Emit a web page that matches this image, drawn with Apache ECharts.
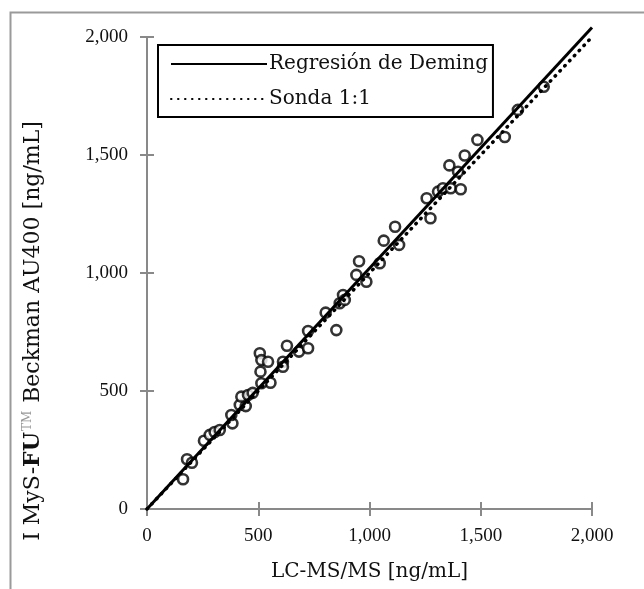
<!DOCTYPE html>
<html>
<head>
<meta charset="utf-8">
<script src="https://cdn.jsdelivr.net/npm/echarts@6/dist/echarts.min.js"></script>
<style>html,body{margin:0;padding:0;background:#fff;}#c{width:644px;height:589px;}</style>
</head>
<body>
<div id="c"></div>
<script>
// LC-MS/MS values (x) and IMySFU Beckman AU400 values (y), ng/mL
var lcms = [162,180,202,256,282,304,327,384,379,417,444,424,454,475,507,514,510,544,555,514,611,611,629,683,724,724,803,851,866,881,889,941,953,986,1046,1064,1133,1115,1274,1257,1308,1330,1365,1410,1359,1398,1428,1485,1608,1667,1783];
var imysfu = [126,211,196,289,314,326,335,363,398,441,436,476,483,492,660,631,582,624,535,533,624,603,692,667,681,754,832,758,872,907,886,992,1050,963,1041,1137,1119,1196,1232,1317,1345,1359,1359,1355,1456,1429,1498,1564,1576,1691,1789];
var demingX = [0, 2000];
var demingY = [0, 2040];
var identityX = [0, 2000];
var identityY = [0, 2000];
var xTicks = [0, 500, 1000, 1500, 2000];
var yTicks = [0, 500, 1000, 1500, 2000];
var seriesNames = ['Regresión de Deming', 'Sonda 1:1'];
var xTitle = 'LC-MS/MS [ng/mL]';

var axisGray = '#898989';
var serifT = 'Liberation Serif';
var serifW = 'DejaVu Serif';
function fmt(v){ return v.toLocaleString('en-US'); }

var pts = lcms.map(function(x,i){ return [x, imysfu[i]]; });
var dem = demingX.map(function(x,i){ return [x, demingY[i]]; });
var idl = identityX.map(function(x,i){ return [x, identityY[i]]; });

function baseAxis(extra){
  var a = {
    type: 'value', min: xTicks[0], max: xTicks[xTicks.length-1], interval: 500,
    axisLine: {show: true, lineStyle: {color: axisGray, width: 2}},
    axisTick: {show: true, length: 7, lineStyle: {color: axisGray, width: 2}},
    splitLine: {show: false},
    axisLabel: {show: true}
  };
  for (var k in extra) a[k] = extra[k];
  return a;
}

var chart = echarts.init(document.getElementById('c'), null, {renderer: 'canvas'});
chart.setOption({
  animation: false,
  backgroundColor: '#fff',
  grid: {left: 147, top: 37, right: 52, bottom: 80, containLabel: false},
  xAxis: [
    baseAxis({
      position: 'bottom',
      axisLabel: {show: true, formatter: fmt, color: '#111', fontFamily: serifT, fontSize: 19, margin: 18},
      name: xTitle, nameLocation: 'middle', nameGap: 53,
      nameTextStyle: {fontFamily: serifW, fontSize: 20, color: '#111'}
    }),
    baseAxis({position: 'bottom', axisTick: {show: true, inside: true, length: 7, lineStyle: {color: axisGray, width: 2}}, axisLabel: {show: false}})
  ],
  yAxis: [
    baseAxis({
      position: 'left',
      min: yTicks[0], max: yTicks[yTicks.length-1],
      axisLabel: {show: true, formatter: fmt, color: '#111', fontFamily: serifT, fontSize: 19, margin: 19}
    }),
    baseAxis({position: 'left', min: yTicks[0], max: yTicks[yTicks.length-1], axisTick: {show: true, inside: true, length: 7, lineStyle: {color: axisGray, width: 2}}, axisLabel: {show: false}})
  ],
  legend: {
    show: true,
    data: seriesNames,
    orient: 'vertical',
    left: 158, top: 45,
    backgroundColor: '#fff',
    borderColor: '#000', borderWidth: 2, borderRadius: 0,
    padding: [9, 5, 8, 12],
    itemWidth: 96, itemHeight: 14, itemGap: 15,
    itemStyle: {opacity: 0},
    textStyle: {fontFamily: serifW, fontSize: 20, color: '#111', padding: [0,0,0,-3]}
  },
  graphic: [
    {type: 'rect', left: 8, top: 10, silent: true, z: -10,
     shape: {width: 700, height: 700}, style: {fill: 'none', stroke: '#9a9a9a', lineWidth: 2}},
    {type: 'text', x: 33, y: 331, rotation: Math.PI/2, z: 10,
     style: {
       text: '{a|I MyS-}{b|FU}{c|TM}{a| Beckman AU400 [ng/mL]}',
       align: 'center', verticalAlign: 'middle',
       rich: {
         a: {fontFamily: serifW, fontSize: 22, fill: '#111'},
         b: {fontFamily: serifW, fontSize: 22, fontWeight: 'bold', fill: '#111'},
         c: {fontFamily: serifW, fontSize: 12, fill: '#999', padding: [0,1,10,1]}
       }
     }}
  ],
  series: [
    {type: 'scatter', name: 'data', data: pts, symbol: 'circle', symbolSize: 10, z: 2,
     itemStyle: {color: '#fff', borderColor: '#000', borderWidth: 2.6}},
    {type: 'line', name: seriesNames[0], data: dem, showSymbol: false, symbol: 'none', z: 3, clip: false,
     itemStyle: {color: '#000'},
     lineStyle: {color: '#000', width: 3, type: 'solid'}},
    {type: 'line', name: seriesNames[1], data: idl, showSymbol: false, symbol: 'none', z: 4, clip: false,
     itemStyle: {color: '#000'},
     lineStyle: {color: '#000', width: 3.5, type: [0.5, 6.5], cap: 'round'}}
  ]
});
</script>
</body>
</html>
